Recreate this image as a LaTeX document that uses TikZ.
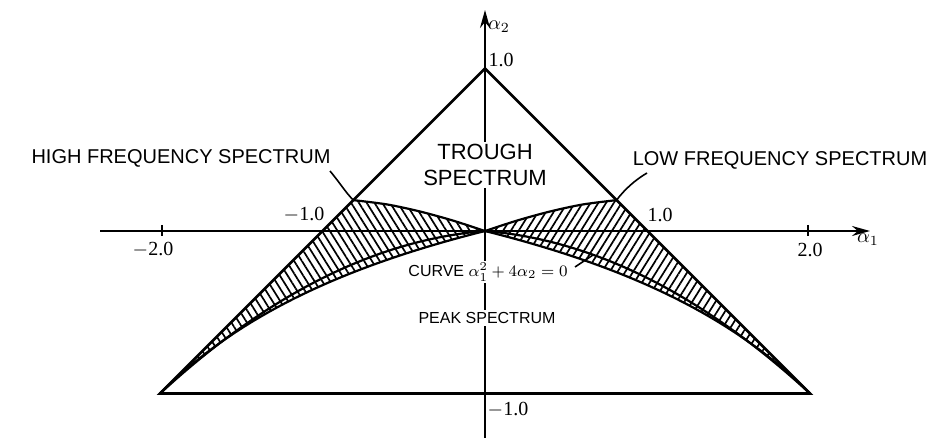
\documentclass[tikz,border=0pt]{standalone}
\usepackage{fontspec}
\setmainfont{Liberation Serif}
\newfontfamily\labfont{Liberation Sans}
\usetikzlibrary{patterns.meta,arrows.meta}
\begin{document}
\begin{tikzpicture}[x=0.5pt,y=-0.5pt,
  axis/.style={line width=1pt},
  tri/.style={line width=1.4pt, line join=miter},
  curv/.style={line width=1.1pt},
  hatchR/.style={pattern={Lines[angle=58,distance=3.3pt,line width=0.85pt]}},
  hatchL/.style={pattern={Lines[angle=122,distance=3.3pt,line width=0.85pt]}},
  biglab/.style={font=\labfont\fontsize{10}{12}\selectfont, inner sep=1pt},
  smalllab/.style={font=\labfont\fontsize{8}{10}\selectfont, fill=white, inner sep=1pt},
  num/.style={font=\fontsize{10}{12}\selectfont, inner sep=1pt},
  ptr/.style={line width=0.8pt}]
\useasboundingbox (0,0) rectangle (941,438);
% data part
\begin{scope}[shift={(485,231)},x=81.25pt,y=81.25pt]
  \coordinate (A) at (0,1);
  \coordinate (BL) at (-2,-1);
  \coordinate (BR) at (2,-1);
  \coordinate (O) at (0,0);
  \coordinate (PR) at (0.81,0.19);
  \coordinate (PL) at (-0.81,0.19);
  % hatched regions
  \fill[hatchR] plot[smooth] coordinates {(0,0) (0.2,0.065) (0.4,0.12) (0.6,0.163) (0.81,0.19)}
     -- (BR) -- plot[domain=2:0,samples=40] (\x,{-\x/(4-\x)}) -- cycle;
  \fill[hatchL] plot[smooth] coordinates {(0,0) (-0.2,0.065) (-0.4,0.12) (-0.6,0.163) (-0.81,0.19)}
     -- (BL) -- plot[domain=2:0,samples=40] (-\x,{-\x/(4-\x)}) -- cycle;
  % boundary curves
  \draw[curv] plot[smooth] coordinates {(0,0) (0.2,0.065) (0.4,0.12) (0.6,0.163) (0.81,0.19)};
  \draw[curv] plot[smooth] coordinates {(0,0) (-0.2,0.065) (-0.4,0.12) (-0.6,0.163) (-0.81,0.19)};
  \draw[curv] plot[domain=0:2,samples=40] (\x,{-\x/(4-\x)});
  \draw[curv] plot[domain=0:2,samples=40] (-\x,{-\x/(4-\x)});
  \draw[curv] plot[domain=-2:2,samples=81] (\x,{-0.08*abs(\x)-0.21*\x*\x});
  % triangle
  \draw[tri] (A) -- (BL) -- (BR) -- cycle;
\end{scope}
% axes
\coordinate (xs) at (100,231);
\coordinate (xe) at (870,231);
\coordinate (ys) at (485,438);
\coordinate (ye) at (485,10);
\draw[axis,-{Stealth[length=9pt,width=5pt]}] (xs) -- (xe);
\draw[axis,-{Stealth[length=9pt,width=5pt]}] (ys) -- (ye);
\coordinate (t1a) at (162,225); \coordinate (t1b) at (162,236);
\coordinate (t2a) at (808,225); \coordinate (t2b) at (808,236);
\draw[axis] (t1a) -- (t1b);
\draw[axis] (t2a) -- (t2b);
% axis labels and numbers
\node[num] (a2) at (499,27) {$\alpha_2$};
\node[num] (a1) at (868,240) {$\alpha_1$};
\node[num] (n1top) at (501,60) {1.0};
\node[num] (nm1) at (304,215) {$-$1.0};
\node[num] (np1) at (660,215) {1.0};
\node[num] (nm2) at (153,250) {$-$2.0};
\node[num] (np2) at (810,250) {2.0};
\node[num] (nm1b) at (508,410) {$-$1.0};
% region labels
\node[biglab, fill=white, align=center, font=\labfont\fontsize{11}{13}\selectfont] (trough) at (485,165) {TROUGH\\SPECTRUM};
\node[biglab] (hf) at (181,158) {HIGH FREQUENCY SPECTRUM};
\node[biglab] (lf) at (780,160) {LOW FREQUENCY SPECTRUM};
\node[smalllab] (curve) at (488,272) {CURVE $\alpha_1^2+4\alpha_2=0$};
\node[smalllab] (peak) at (487,318) {PEAK SPECTRUM};
% pointers
\coordinate (hfp) at (330,171);
\coordinate (lfp) at (647,173);
\coordinate (cvp) at (575,267);
\coordinate (cvq) at (593,255);
\draw[ptr] (hfp) .. controls (340,183) and (346,193) .. (PL);
\draw[ptr] (lfp) .. controls (635,180) and (624,190) .. (PR);
\draw[ptr] (cvp) -- (cvq);
\end{tikzpicture}
\end{document}
